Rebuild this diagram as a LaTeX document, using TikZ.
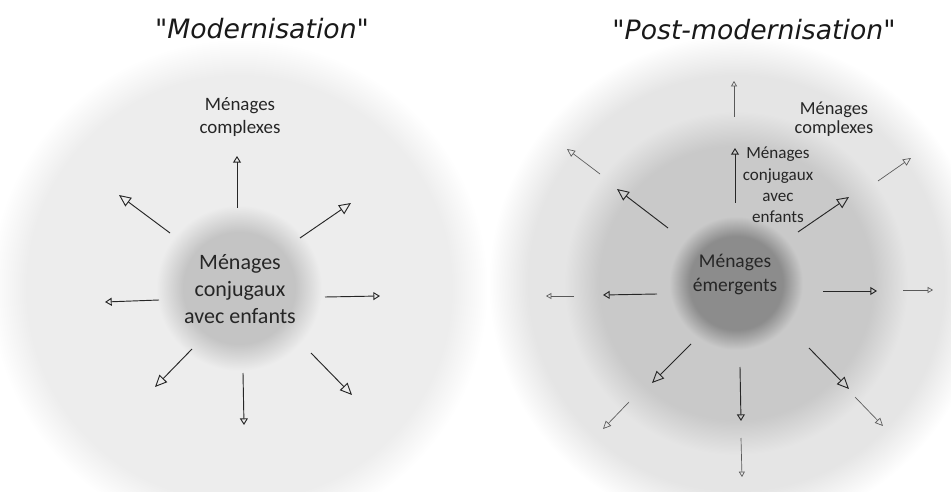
\documentclass[tikz,border=0pt]{standalone}
\usepackage{fontspec}
\setmainfont{Carlito}
\newfontfamily\titlefont{DejaVu Sans}
\usepackage{tikz}
\usetikzlibrary{arrows.meta}
\usetikzlibrary{positioning}

% soft edged discs, one shading per picture (radii in bp, 1px = 0.75bp)
\pgfdeclareradialshading{modshade}{\pgfpoint{0bp}{0bp}}{%
  color(0bp)=(black!23); color(42bp)=(black!23); color(62bp)=(black!7);
  color(159bp)=(black!7); color(186bp)=(white)}
\pgfdeclareradialshading{postshade}{\pgfpoint{0bp}{0bp}}{%
  color(0bp)=(black!45); color(35bp)=(black!45); color(50bp)=(black!21);
  color(103bp)=(black!21); color(129bp)=(black!10);
  color(156bp)=(black!10); color(185bp)=(white)}

\tikzset{
    font={\fontsize{14pt}{17pt}\selectfont},
    disc/.style={
           inner sep=0pt,
           outer sep=0pt,
           },
    label/.style={
           align=center,
           text=black!85,
           inner sep=0pt,
           },
    heading/.style={
           font={\titlefont\itshape\fontsize{20pt}{24pt}\selectfont},
           text=black!90,
           },
    spoke/.style={-{Triangle[open,length=9pt,width=8pt]}, line width=0.7pt, draw=black!85},
    spokeaxis/.style={-{Triangle[open,length=5pt,width=6pt]}, line width=0.7pt, draw=black!85},
    farspoke/.style={-{Triangle[open,length=6pt,width=5.5pt]}, line width=0.5pt, draw=black!65},
    farspokeaxis/.style={-{Triangle[open,length=4pt,width=4.5pt]}, line width=0.5pt, draw=black!65},
}

\begin{document}
\begin{tikzpicture}[x=0.75pt,y=-0.75pt]

\useasboundingbox (0,0) rectangle (951,492);
\clip (0,0) rectangle (951,492);

% Modernisation: the two discs
\node[disc] (MODDISC) at (239,288) {\pgfuseshading{modshade}};

% Post-modernisation: the three discs
\node[disc] (POSTDISC) at (736,283) {\pgfuseshading{postshade}};

% titles
\node[heading] (MODTITLE) at (262,29) {"Modernisation"};
\node[heading] (POSTTITLE) at (754,30) {"Post-modernisation"};

% labels
\node[label, font={\fontsize{16.5pt}{20pt}\selectfont}] (CONJ) at (240,289) {Ménages\\conjugaux\\avec enfants};
\node[label, font={\fontsize{14.2pt}{17pt}\selectfont}] (COMPLEX) at (240,117) {Ménages\\complexes};
\node[label, font={\fontsize{14.6pt}{18pt}\selectfont}] (EMERG) at (735,275) {Ménages\\émergents};
\node[label, font={\fontsize{12.8pt}{16pt}\selectfont}] (CONJTWO) at (778,185) {Ménages\\conjugaux\\avec\\enfants};
\node[label, font={\fontsize{13.8pt}{13.8pt}\selectfont}] (COMPLEXTWO) at (834,119) {Ménages\\complexes};

% arrow ends, left picture
\coordinate (MN1) at (237,208);  \coordinate (MN2) at (237,156);
\coordinate (MNE1) at (300,238); \coordinate (MNE2) at (351,203);
\coordinate (ME1) at (325,297);  \coordinate (ME2) at (380,296);
\coordinate (MSE1) at (311,353); \coordinate (MSE2) at (352,395);
\coordinate (MS1) at (243,373);  \coordinate (MS2) at (244,425);
\coordinate (MSW1) at (192,349); \coordinate (MSW2) at (155,387);
\coordinate (MW1) at (159,300);  \coordinate (MW2) at (105,302);
\coordinate (MNW1) at (170,233); \coordinate (MNW2) at (119,195);

% arrow ends, right picture, inner ring
\coordinate (PN1) at (735,203);  \coordinate (PN2) at (735,148);
\coordinate (PNE1) at (798,232); \coordinate (PNE2) at (849,197);
\coordinate (PE1) at (823,291);  \coordinate (PE2) at (877,291);
\coordinate (PSE1) at (809,348); \coordinate (PSE2) at (849,389);
\coordinate (PS1) at (740,367);  \coordinate (PS2) at (741,421);
\coordinate (PSW1) at (691,344); \coordinate (PSW2) at (652,383);
\coordinate (PW1) at (657,294);  \coordinate (PW2) at (603,295);
\coordinate (PNW1) at (668,228); \coordinate (PNW2) at (617,189);

% arrow ends, right picture, outer ring
\coordinate (QN1) at (734,117);  \coordinate (QN2) at (734,81);
\coordinate (QNE1) at (878,181); \coordinate (QNE2) at (911,158);
\coordinate (QE1) at (903,290);  \coordinate (QE2) at (933,290);
\coordinate (QSE1) at (855,397); \coordinate (QSE2) at (883,426);
\coordinate (QS1) at (741,438);  \coordinate (QS2) at (742,477);
\coordinate (QSW1) at (629,402); \coordinate (QSW2) at (603,429);
\coordinate (QW1) at (574,296);  \coordinate (QW2) at (546,296);
\coordinate (QNW1) at (600,174); \coordinate (QNW2) at (567,149);

\path (MN1)  edge[spokeaxis] (MN2)
(MNE1) edge[spoke] (MNE2)
(ME1)  edge[spokeaxis] (ME2)
(MSE1) edge[spoke] (MSE2)
(MS1)  edge[spokeaxis] (MS2)
(MSW1) edge[spoke] (MSW2)
(MW1)  edge[spokeaxis] (MW2)
(MNW1) edge[spoke] (MNW2)
;

\path (PN1)  edge[spokeaxis] (PN2)
(PNE1) edge[spoke] (PNE2)
(PE1)  edge[spokeaxis] (PE2)
(PSE1) edge[spoke] (PSE2)
(PS1)  edge[spokeaxis] (PS2)
(PSW1) edge[spoke] (PSW2)
(PW1)  edge[spokeaxis] (PW2)
(PNW1) edge[spoke] (PNW2)
;

\path (QN1)  edge[farspokeaxis] (QN2)
(QNE1) edge[farspoke] (QNE2)
(QE1)  edge[farspokeaxis] (QE2)
(QSE1) edge[farspoke] (QSE2)
(QS1)  edge[farspokeaxis] (QS2)
(QSW1) edge[farspoke] (QSW2)
(QW1)  edge[farspokeaxis] (QW2)
(QNW1) edge[farspoke] (QNW2)
;

\end{tikzpicture}
\end{document}
